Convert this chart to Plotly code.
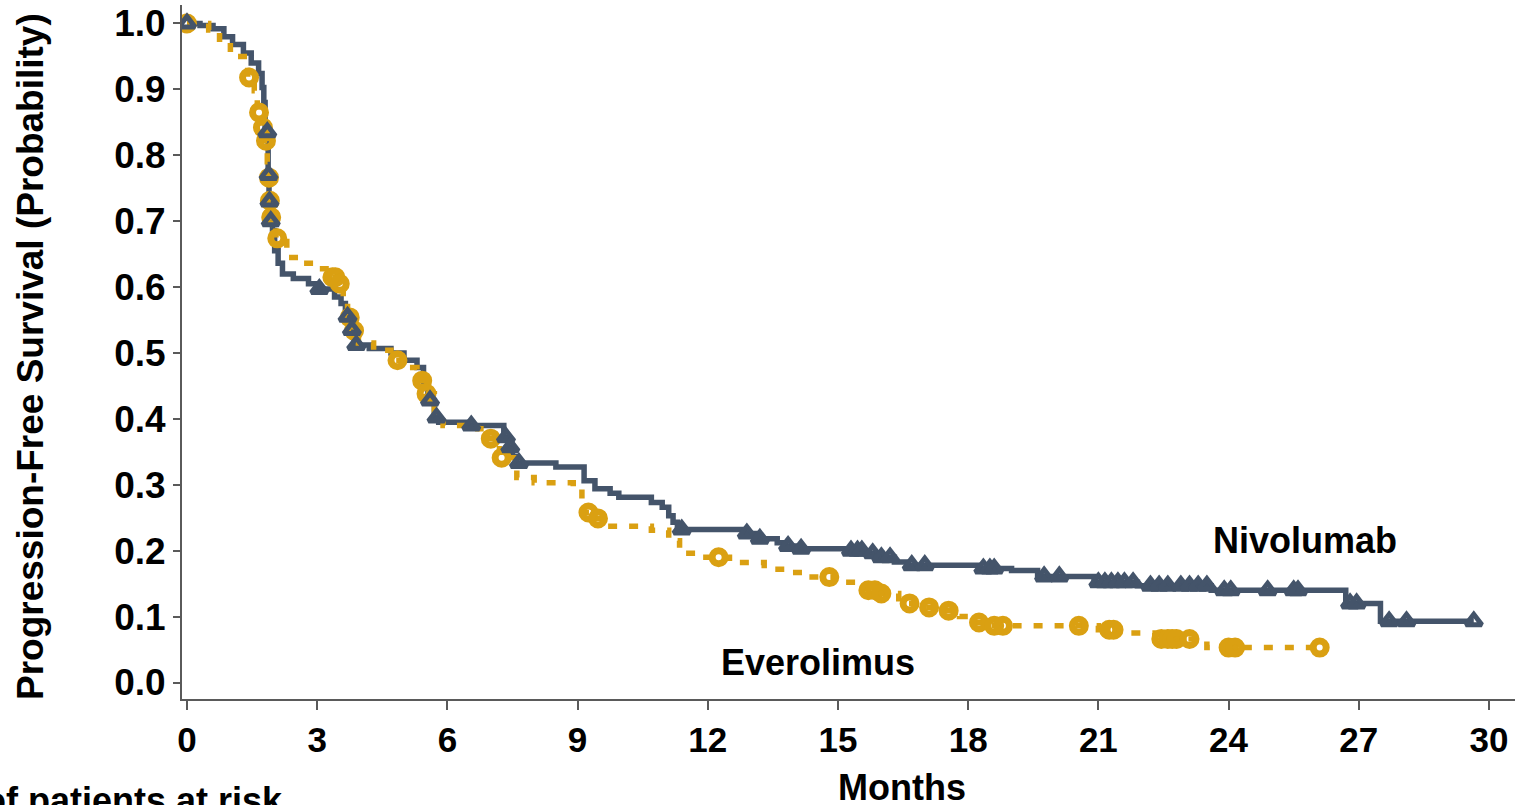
import numpy as np
import plotly.graph_objects as go

# Kaplan-Meier estimates: month at which each step occurs, survival after the step
niv_time = [0, 0.3, 0.6, 0.85, 1.05, 1.3, 1.48, 1.65, 1.73, 1.77, 1.8, 1.87, 1.89, 1.92,
            1.97, 2.02, 2.1, 2.2, 2.45, 2.8, 3.0, 3.4, 3.55, 3.65, 3.75, 3.85, 4.2, 4.7,
            5.0, 5.3, 5.45, 5.55, 5.7, 5.8, 6.5, 7.3, 7.4, 7.5, 7.6, 8.5, 9.15, 9.4, 9.75,
            9.95, 10.7, 10.95, 11.1, 11.2, 11.3, 12.85, 13.1, 13.6, 13.8, 14.0, 15.2, 15.6,
            16.0, 16.3, 16.6, 18.25, 19.0, 19.6, 20.9, 21.9, 23.6, 26.7, 27.5]
niv_surv = [1.0, 0.997, 0.992, 0.98, 0.968, 0.955, 0.94, 0.924, 0.903, 0.88, 0.835, 0.77,
            0.73, 0.70, 0.686, 0.655, 0.636, 0.62, 0.613, 0.605, 0.597, 0.585, 0.575, 0.555,
            0.535, 0.512, 0.507, 0.5, 0.489, 0.478, 0.448, 0.428, 0.402, 0.395, 0.39, 0.372,
            0.357, 0.343, 0.333, 0.327, 0.306, 0.294, 0.287, 0.281, 0.273, 0.266, 0.253,
            0.243, 0.232, 0.226, 0.218, 0.212, 0.207, 0.203, 0.2, 0.196, 0.19, 0.183, 0.178,
            0.173, 0.17, 0.161, 0.152, 0.147, 0.14, 0.12, 0.093]
niv_censor = [0, 1.85, 1.88, 1.9, 1.93, 3.05, 3.7, 3.8, 3.9, 5.6, 5.75, 6.55, 7.35, 7.45,
              7.65, 11.4, 12.9, 13.2, 13.85, 14.15, 15.3, 15.45, 15.55, 15.8, 16.0, 16.2,
              16.7, 17.0, 18.35, 18.5, 18.6, 19.75, 20.1, 21.0, 21.15, 21.3, 21.45, 21.6,
              21.8, 22.2, 22.4, 22.6, 22.9, 23.1, 23.3, 23.5, 23.9, 24.05, 24.9, 25.5,
              25.6, 26.8, 26.95, 27.7, 28.1, 29.65]

eve_time = [0, 0.5, 0.75, 1.0, 1.4, 1.55, 1.62, 1.72, 1.8, 1.85, 1.88, 1.9, 1.93, 2.05,
            2.3, 2.6, 3.0, 3.3, 3.5, 3.6, 3.7, 3.8, 3.95, 4.3, 4.7, 5.0, 5.3, 5.4, 5.5,
            5.7, 5.9, 6.7, 6.95, 7.2, 7.6, 8.0, 8.9, 9.1, 9.4, 9.6, 10.7, 11.1, 11.35,
            11.8, 12.5, 13.3, 13.8, 14.3, 14.9, 15.5, 15.7, 15.9, 16.4, 16.6, 16.9, 17.3,
            17.8, 18.1, 18.4, 21.0, 21.7, 22.3, 23.5]
eve_surv = [1.0, 0.99, 0.972, 0.95, 0.918, 0.898, 0.865, 0.842, 0.822, 0.79, 0.766, 0.731,
            0.706, 0.674, 0.645, 0.636, 0.628, 0.615, 0.605, 0.58, 0.554, 0.534, 0.515,
            0.504, 0.489, 0.478, 0.468, 0.458, 0.438, 0.41, 0.39, 0.385, 0.37, 0.341,
            0.311, 0.303, 0.294, 0.258, 0.249, 0.237, 0.231, 0.215, 0.196, 0.19, 0.182,
            0.172, 0.167, 0.16, 0.152, 0.145, 0.14, 0.135, 0.127, 0.12, 0.114, 0.109, 0.1,
            0.091, 0.086, 0.08, 0.075, 0.066, 0.053]
eve_censor = [0, 1.43, 1.66, 1.75, 1.82, 1.89, 1.91, 1.94, 2.08, 3.35, 3.42, 3.52, 3.75,
              3.85, 4.85, 5.42, 5.52, 7.0, 7.25, 9.25, 9.47, 12.25, 14.8, 15.7, 15.85,
              16.0, 16.65, 17.1, 17.55, 18.25, 18.6, 18.8, 20.55, 21.25, 21.35, 22.45,
              22.6, 22.7, 22.8, 23.1, 24.0, 24.15, 26.1]

x_tickvals = [0, 3, 6, 9, 12, 15, 18, 21, 24, 27, 30]
y_tickvals = [0.0, 0.1, 0.2, 0.3, 0.4, 0.5, 0.6, 0.7, 0.8, 0.9, 1.0]
y_ticktext = ["0.0", "0.1", "0.2", "0.3", "0.4", "0.5", "0.6", "0.7", "0.8", "0.9", "1.0"]

NIV_COLOR = "#44546A"
EVE_COLOR = "#DAA012"
FONT = "Liberation Sans, Arial, sans-serif"

W, H = 1515, 805
M_L, M_R, M_T, M_B = 182, 0, 5, 106
X_RANGE = [-0.115, 30.6]
Y_RANGE = [-0.025, 1.028]


def surv_at(times, surv, t):
    """Value of the step function at time t."""
    idx = np.searchsorted(np.asarray(times), t, side="right") - 1
    return surv[idx]


def step_line(times, surv, censor):
    """Extend the curve to the last follow-up time."""
    end = max(censor)
    return list(times) + [end], list(surv) + [surv[-1]]


def px_to_paper(px_x, px_y):
    pw = W - M_L - M_R
    ph = H - M_T - M_B
    return (px_x - M_L) / pw, (H - M_B - px_y) / ph


fig = go.Figure()

nx, ny = step_line(niv_time, niv_surv, niv_censor)
ex, ey = step_line(eve_time, eve_surv, eve_censor)

fig.add_trace(go.Scatter(x=nx, y=ny, mode="lines", line_shape="hv",
                         line=dict(color=NIV_COLOR, width=5.5), name="Nivolumab",
                         showlegend=False, hoverinfo="skip"))
fig.add_trace(go.Scatter(x=ex, y=ey, mode="lines", line_shape="hv",
                         line=dict(color=EVE_COLOR, width=5.5, dash="9px,12px"),
                         name="Everolimus", showlegend=False, hoverinfo="skip"))

fig.add_trace(go.Scatter(x=eve_censor, y=[surv_at(eve_time, eve_surv, t) for t in eve_censor],
                         mode="markers",
                         marker=dict(symbol="circle-open", size=13, color=EVE_COLOR,
                                     line=dict(color=EVE_COLOR, width=7)),
                         showlegend=False, hoverinfo="skip"))
fig.add_trace(go.Scatter(x=niv_censor, y=[surv_at(niv_time, niv_surv, t) for t in niv_censor],
                         mode="markers",
                         marker=dict(symbol="triangle-up-open", size=14, color=NIV_COLOR,
                                     line=dict(color=NIV_COLOR, width=5)),
                         showlegend=False, hoverinfo="skip"))

axis_common = dict(showgrid=False, zeroline=False, showline=True, linecolor="#5a5a5a",
                   linewidth=2, ticks="outside", tickcolor="#5a5a5a", tickwidth=2)

fig.update_xaxes(range=X_RANGE, tickvals=x_tickvals, ticklen=9,
                 tickfont=dict(family=FONT, size=35, color="black", weight="bold"),
                 **axis_common)
fig.update_yaxes(range=Y_RANGE, tickvals=y_tickvals, ticktext=y_ticktext, ticklen=7,
                 tickfont=dict(family=FONT, size=37, color="black", weight="bold"),
                 **axis_common)

annotations = []


def add_text(text, px_x, px_y, size=36, angle=0, xanchor="center"):
    ax, ay = px_to_paper(px_x, px_y)
    annotations.append(dict(text=text, x=ax, y=ay, xref="paper", yref="paper",
                            showarrow=False, xanchor=xanchor, yanchor="middle",
                            textangle=angle,
                            font=dict(family=FONT, size=size, color="black", weight="bold")))


add_text("Nivolumab", 1305, 540)
add_text("Everolimus", 818, 662)
add_text("Months", 902, 787)
add_text("Progression-Free Survival (Probability)", 30, 357, size=37, angle=-90)
add_text("No. of patients at risk", 285, 801, xanchor="right")

fig.update_layout(width=W, height=H, margin=dict(l=M_L, r=M_R, t=M_T, b=M_B),
                  plot_bgcolor="white", paper_bgcolor="white",
                  annotations=annotations)

fig.write_html("out.html")
